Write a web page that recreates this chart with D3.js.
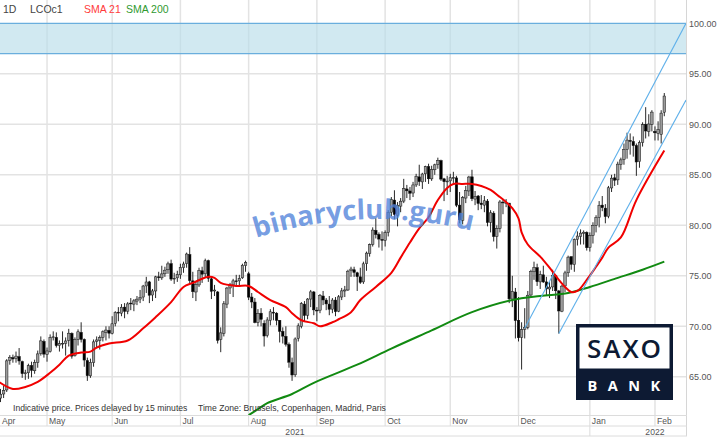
<!DOCTYPE html>
<html>
<head>
<meta charset="utf-8">
<script src="https://cdn.jsdelivr.net/npm/d3@7"></script>
<style>
  body { margin: 0; background: #fff; }
  svg { display: block; font-family: "Liberation Sans", Arial, sans-serif; }
</style>
</head>
<body>
<svg id="chart" width="720" height="437"></svg>
<script>
// LCOc1 daily candles, Apr 2021 - Feb 2022
var dates = [
"2021-04-09","2021-04-12","2021-04-13","2021-04-14","2021-04-15","2021-04-16","2021-04-19","2021-04-20","2021-04-21","2021-04-22","2021-04-23","2021-04-26","2021-04-27","2021-04-28","2021-04-29","2021-04-30",
"2021-05-03","2021-05-04","2021-05-05","2021-05-06","2021-05-07","2021-05-10","2021-05-11","2021-05-12","2021-05-13","2021-05-14","2021-05-17","2021-05-18","2021-05-19","2021-05-20","2021-05-21","2021-05-24","2021-05-25","2021-05-26","2021-05-27","2021-05-28","2021-05-31",
"2021-06-01","2021-06-02","2021-06-03","2021-06-04","2021-06-07","2021-06-08","2021-06-09","2021-06-10","2021-06-11","2021-06-14","2021-06-15","2021-06-16","2021-06-17","2021-06-18","2021-06-21","2021-06-22","2021-06-23","2021-06-24","2021-06-25","2021-06-28","2021-06-29","2021-06-30",
"2021-07-01","2021-07-02","2021-07-05","2021-07-06","2021-07-07","2021-07-08","2021-07-09","2021-07-12","2021-07-13","2021-07-14","2021-07-15","2021-07-16","2021-07-19","2021-07-20","2021-07-21","2021-07-22","2021-07-23","2021-07-26","2021-07-27","2021-07-28","2021-07-29","2021-07-30",
"2021-08-02","2021-08-03","2021-08-04","2021-08-05","2021-08-06","2021-08-09","2021-08-10","2021-08-11","2021-08-12","2021-08-13","2021-08-16","2021-08-17","2021-08-18","2021-08-19","2021-08-20","2021-08-23","2021-08-24","2021-08-25","2021-08-26","2021-08-27","2021-08-30","2021-08-31",
"2021-09-01","2021-09-02","2021-09-03","2021-09-06","2021-09-07","2021-09-08","2021-09-09","2021-09-10","2021-09-13","2021-09-14","2021-09-15","2021-09-16","2021-09-17","2021-09-20","2021-09-21","2021-09-22","2021-09-23","2021-09-24","2021-09-27","2021-09-28","2021-09-29","2021-09-30",
"2021-10-01","2021-10-04","2021-10-05","2021-10-06","2021-10-07","2021-10-08","2021-10-11","2021-10-12","2021-10-13","2021-10-14","2021-10-15","2021-10-18","2021-10-19","2021-10-20","2021-10-21","2021-10-22","2021-10-25","2021-10-26","2021-10-27","2021-10-28","2021-10-29",
"2021-11-01","2021-11-02","2021-11-03","2021-11-04","2021-11-05","2021-11-08","2021-11-09","2021-11-10","2021-11-11","2021-11-12","2021-11-15","2021-11-16","2021-11-17","2021-11-18","2021-11-19","2021-11-22","2021-11-23","2021-11-24","2021-11-25","2021-11-26","2021-11-29","2021-11-30",
"2021-12-01","2021-12-02","2021-12-03","2021-12-06","2021-12-07","2021-12-08","2021-12-09","2021-12-10","2021-12-13","2021-12-14","2021-12-15","2021-12-16","2021-12-17","2021-12-20","2021-12-21","2021-12-22","2021-12-23","2021-12-24","2021-12-27","2021-12-28","2021-12-29","2021-12-30","2021-12-31",
"2022-01-03","2022-01-04","2022-01-05","2022-01-06","2022-01-07","2022-01-10","2022-01-11","2022-01-12","2022-01-13","2022-01-14","2022-01-17","2022-01-18","2022-01-19","2022-01-20","2022-01-21","2022-01-24","2022-01-25","2022-01-26","2022-01-27","2022-01-28","2022-01-31",
"2022-02-01","2022-02-02","2022-02-03","2022-02-04"];

// empty trading days kept on the right of the chart
var futureDates = ["2022-02-07","2022-02-08","2022-02-09","2022-02-10","2022-02-11","2022-02-14","2022-02-15"];

var opens = [
63.20,62.90,63.30,63.70,66.60,66.90,66.80,67.00,66.50,65.30,65.40,66.10,65.60,66.40,67.30,68.50,
67.20,67.50,68.90,68.90,68.10,68.30,68.30,68.60,69.30,67.10,68.70,69.40,68.70,66.60,65.10,66.40,68.50,68.60,68.90,69.40,69.60,
69.30,70.30,71.40,71.30,71.90,71.50,72.30,72.20,72.50,72.70,72.90,74.00,74.40,73.10,73.50,74.90,74.80,75.20,75.60,76.20,74.70,74.80,
75.10,75.80,76.20,77.10,74.50,73.40,74.10,75.50,75.20,76.50,74.70,73.50,73.40,68.70,69.30,72.20,73.80,74.10,74.50,74.50,74.80,76.00,
75.20,72.90,72.40,70.40,71.30,70.30,69.10,70.60,71.40,71.30,70.60,69.50,69.00,68.20,66.40,65.20,68.80,70.00,72.20,71.10,72.70,73.40,
71.60,71.60,73.00,72.60,72.20,71.70,72.60,71.50,72.90,73.50,73.60,75.50,75.60,75.30,74.90,74.40,76.20,77.20,78.10,79.50,79.10,78.60,
78.50,79.30,81.30,82.50,81.00,81.90,82.40,83.60,83.40,83.20,84.00,84.80,84.30,85.10,85.80,84.60,85.50,86.00,86.40,84.60,84.30,
84.40,84.70,84.70,82.00,80.50,82.70,83.40,84.80,82.60,82.90,82.20,82.00,82.40,80.30,81.20,78.90,79.70,82.30,82.20,82.20,72.70,73.40,
70.60,68.90,69.70,69.90,73.10,75.40,75.80,74.40,75.10,74.40,73.70,73.90,75.00,73.50,71.50,74.00,75.30,76.90,76.10,78.60,78.90,79.20,79.30,
77.80,79.00,80.00,80.80,82.00,81.70,80.90,83.70,84.70,84.50,86.00,86.50,87.50,88.40,88.30,87.90,86.30,88.20,90.00,89.30,90.00,
89.30,89.10,89.00,91.20];

var highs = [
63.50,63.80,64.10,66.75,67.15,67.20,67.50,67.85,66.60,65.70,66.30,66.50,66.70,67.60,69.00,68.70,
67.90,69.20,69.50,69.40,68.60,69.50,68.90,69.75,69.40,68.90,69.70,70.40,68.80,66.90,66.80,68.70,69.00,69.10,69.60,70.00,70.00,
71.00,71.50,71.90,72.20,72.30,72.40,72.80,72.70,73.00,73.60,74.10,74.90,74.50,73.70,75.00,75.40,76.00,75.90,76.40,76.60,75.30,75.50,
76.20,76.40,77.30,77.84,75.40,74.40,75.80,75.90,76.70,76.60,74.90,74.10,73.50,69.90,72.50,73.90,74.30,74.70,75.10,75.10,76.20,76.50,
75.40,73.30,72.80,71.70,71.80,70.60,70.90,71.70,71.90,71.40,70.60,69.90,70.00,68.40,66.90,68.90,70.30,72.40,72.50,72.80,73.60,73.50,
71.90,73.20,73.50,72.80,73.00,72.80,72.90,73.10,73.80,74.00,75.60,75.90,75.90,75.40,75.80,76.40,77.40,78.20,79.80,80.70,79.30,79.40,
79.50,81.50,82.80,83.47,82.30,82.70,84.60,84.00,83.80,84.30,85.10,86.00,85.20,85.90,86.10,85.90,86.10,86.70,86.50,84.70,84.90,
85.10,85.30,84.90,83.30,82.90,83.90,84.90,85.50,83.40,83.00,83.00,82.90,82.60,81.50,81.40,80.00,82.50,82.50,82.60,82.20,75.00,73.80,
72.90,70.40,71.80,73.50,75.60,76.40,76.20,75.50,76.00,74.90,74.40,75.60,75.10,73.60,74.10,75.50,77.00,76.90,78.70,79.40,79.60,79.50,79.40,
79.30,80.30,81.00,82.40,82.90,82.10,83.90,85.00,85.10,86.30,86.70,88.10,89.17,89.10,88.80,88.10,88.40,90.20,91.70,91.00,91.40,
89.80,90.30,91.40,93.10];

var lows = [
62.55,62.50,62.90,63.50,66.20,66.40,66.40,66.20,64.90,64.70,64.80,64.95,65.30,65.90,67.10,66.90,
66.50,67.40,68.60,67.90,67.50,67.80,67.10,68.00,66.80,67.00,68.10,68.40,66.00,64.60,64.90,66.00,67.90,67.70,68.50,68.60,68.80,
69.20,70.00,70.50,71.00,70.80,71.20,71.60,71.50,72.10,72.30,72.50,73.30,72.30,72.50,72.80,74.50,74.60,74.90,75.20,74.50,74.20,74.40,
74.70,75.30,75.80,74.10,72.80,72.50,73.90,74.30,74.80,74.40,72.70,73.00,68.30,67.44,69.00,71.80,73.20,72.90,73.90,73.90,74.70,75.40,
72.60,71.80,70.30,70.00,70.00,68.00,68.90,70.10,70.60,70.10,68.40,68.30,68.00,65.90,64.60,65.00,68.50,69.80,70.50,70.70,71.90,71.10,
70.50,71.30,72.10,71.60,71.10,71.30,71.00,71.40,72.60,72.90,73.50,74.90,74.90,73.50,74.20,74.20,75.50,76.90,77.90,78.70,77.80,77.50,
77.90,78.90,80.90,80.60,79.90,81.30,82.20,82.70,82.50,82.80,83.80,83.90,83.60,84.30,84.10,84.40,85.00,85.60,84.40,82.40,83.00,
83.30,84.20,81.80,80.20,80.10,82.20,82.90,82.40,82.00,81.50,81.60,81.30,79.90,79.30,78.40,77.70,79.30,81.10,81.80,72.30,71.90,68.80,
68.50,65.72,68.80,69.70,72.90,74.60,74.00,73.70,74.30,73.00,72.80,73.50,72.70,69.28,71.40,73.40,74.90,75.60,75.40,78.00,78.10,78.10,77.50,
77.40,78.20,79.30,79.80,81.40,80.20,80.70,83.30,83.90,84.00,85.50,86.00,86.60,87.00,86.80,84.90,85.70,87.80,88.60,88.80,89.30,
88.40,88.40,88.10,90.80];

var closes = [
62.95,63.28,63.67,66.58,66.94,66.77,67.05,66.57,65.32,65.40,66.11,65.65,66.42,67.27,68.56,67.25,
67.56,68.88,68.96,68.09,68.28,68.32,68.55,69.32,67.05,68.71,69.46,68.71,66.66,65.11,66.44,68.46,68.65,68.87,69.46,69.63,69.32,
70.25,71.35,71.31,71.89,71.49,72.22,72.22,72.52,72.69,72.86,73.99,74.39,73.08,73.51,74.90,74.81,75.19,75.56,76.18,74.68,74.76,75.13,
75.84,76.17,77.16,74.53,73.43,74.12,75.55,75.16,76.49,74.76,73.47,73.59,68.62,69.35,72.23,73.79,74.10,74.50,74.48,74.74,76.05,76.33,
72.89,72.41,70.38,71.29,70.70,69.04,70.63,71.44,71.31,70.59,69.51,69.03,68.23,66.45,65.18,68.75,70.05,72.25,71.07,72.70,73.41,71.63,
71.59,73.03,72.61,72.22,71.69,72.60,71.45,72.92,73.51,73.60,75.46,75.67,75.34,74.92,74.36,76.19,77.25,78.09,79.53,79.09,78.64,78.52,
79.28,81.26,82.56,81.08,81.95,82.39,83.65,83.42,83.18,84.00,84.86,84.33,85.08,85.82,84.61,85.53,85.99,86.40,84.58,84.32,84.38,
84.71,84.72,81.99,80.54,82.74,83.43,84.78,82.64,82.87,82.17,82.05,82.43,80.28,81.24,78.89,79.70,82.31,82.25,82.22,72.72,73.44,70.57,
68.87,69.67,69.88,73.08,75.44,75.82,74.42,75.15,74.39,73.70,73.88,75.02,73.52,71.52,73.98,75.29,76.85,76.14,78.60,78.94,79.23,79.32,77.78,
78.98,80.00,80.80,81.99,81.75,80.87,83.72,84.67,84.47,86.06,86.48,87.51,88.44,88.38,87.89,86.27,88.20,89.96,89.34,90.03,91.21,
89.16,89.47,91.11,92.80];

// SMA 21
var sma21Dates = ["2021-04-09","2021-04-16","2021-04-22","2021-04-28","2021-05-04","2021-05-07","2021-05-12","2021-05-18","2021-05-21","2021-05-25","2021-05-31",
  "2021-06-08","2021-06-15","2021-06-21","2021-06-28","2021-07-02","2021-07-07","2021-07-14","2021-07-16","2021-07-20","2021-07-27",
  "2021-08-02","2021-08-05","2021-08-11","2021-08-18","2021-08-20","2021-08-25","2021-08-31","2021-09-02","2021-09-08","2021-09-10","2021-09-16","2021-09-21","2021-09-28",
  "2021-10-05","2021-10-08","2021-10-13","2021-10-18","2021-10-21","2021-10-26","2021-10-29","2021-11-02","2021-11-05","2021-11-10","2021-11-15","2021-11-18","2021-11-23","2021-11-25","2021-11-29",
  "2021-12-01","2021-12-02","2021-12-06","2021-12-10","2021-12-15","2021-12-20","2021-12-22","2021-12-24","2021-12-28","2021-12-31",
  "2022-01-05","2022-01-07","2022-01-11","2022-01-17","2022-01-24","2022-02-04"];
var sma21Values = [64.6,63.8,64.0,64.5,65.4,66.2,67.1,67.4,67.5,67.9,68.3,
  68.6,69.8,70.9,72.4,73.9,74.3,74.9,74.8,74.3,74.0,
  74.0,73.4,72.6,71.9,71.3,70.6,70.3,70.0,70.4,70.7,71.4,72.6,73.9,
  75.3,76.8,78.3,79.7,80.8,82.5,83.7,84.1,84.1,84.1,83.9,83.5,82.8,82.3,81.7,
  80.7,79.3,78.1,76.9,75.8,74.6,73.9,73.4,73.5,74.6,
  75.9,76.8,77.8,78.8,82.5,87.4];

// SMA 200
var sma200Dates = ["2021-08-02","2021-08-05","2021-08-10","2021-08-20","2021-08-31","2021-09-20","2021-10-05","2021-10-22",
  "2021-11-10","2021-11-29","2021-12-10","2021-12-23","2022-01-03","2022-01-14","2022-01-26","2022-02-04"];
var sma200Values = [61.2,61.8,62.4,63.3,64.4,66.2,67.8,69.6,71.4,72.6,73.0,73.3,73.9,74.8,75.6,76.4];

// trend channel (start, end)
var upperDates = ["2021-12-03","2022-02-15"], upperValues = [69.8, 100.0];
var lowerDates = ["2021-12-20","2022-02-15"], lowerValues = [69.28, 92.4];

// resistance zone
var zoneValues = [97, 100];

var yTicks = [65, 70, 75, 80, 85, 90, 95, 100];
var monthLabels = ["Apr","May","Jun","Jul","Aug","Sep","Oct","Nov","Dec","Jan","Feb"];
var yearLabels = ["2021","2022"];

var W = 720, H = 437, plotW = 686, plotH = 415;
var svg = d3.select("#chart");

var allDates = dates.concat(futureDates);
function idx(d) { return allDates.indexOf(d); }

var x = d3.scaleLinear().domain([0, allDates.length - 1]).range([-2.6, plotW]);
var y = d3.scaleLinear().domain([61.22, 102.31]).range([plotH, 0]);

svg.append("defs").append("clipPath").attr("id", "plotClip")
  .append("rect").attr("x", 0).attr("y", 0).attr("width", plotW).attr("height", plotH);

// month starts
var monthStarts = [];
dates.forEach(function(d, i) {
  if (i === 0 || d.slice(0, 7) !== dates[i - 1].slice(0, 7)) monthStarts.push(i);
});

var grid = svg.append("g");
grid.selectAll("line.h").data(yTicks.slice(0, -1)).join("line")
  .attr("x1", 0).attr("x2", plotW)
  .attr("y1", function(d) { return y(d); }).attr("y2", function(d) { return y(d); })
  .attr("stroke", "#e3e3e3").attr("stroke-width", 1.5);
grid.selectAll("line.v").data(monthStarts.slice(1)).join("line")
  .attr("x1", function(i) { return x(i); }).attr("x2", function(i) { return x(i); })
  .attr("y1", 0).attr("y2", plotH)
  .attr("stroke", "#e3e3e3").attr("stroke-width", 1.5);

var plot = svg.append("g").attr("clip-path", "url(#plotClip)");

// blue zone
plot.append("rect")
  .attr("x", 0).attr("width", plotW)
  .attr("y", y(zoneValues[1])).attr("height", y(zoneValues[0]) - y(zoneValues[1]))
  .attr("fill", "#b9dde9").attr("fill-opacity", 0.65);
plot.selectAll("line.zone").data(zoneValues).join("line")
  .attr("x1", 0).attr("x2", plotW)
  .attr("y1", function(d) { return y(d); }).attr("y2", function(d) { return y(d); })
  .attr("stroke", "#6aaedd").attr("stroke-width", 1.3);

// candles
var candle = plot.selectAll("g.candle").data(d3.range(dates.length)).join("g").attr("class", "candle");
candle.append("line")
  .attr("x1", function(i) { return x(i); }).attr("x2", function(i) { return x(i); })
  .attr("y1", function(i) { return y(highs[i]); }).attr("y2", function(i) { return y(lows[i]); })
  .attr("stroke", "#111").attr("stroke-width", 0.9);
candle.append("rect")
  .attr("x", function(i) { return x(i) - 1.25; })
  .attr("width", 2.5)
  .attr("y", function(i) { return y(Math.max(opens[i], closes[i])); })
  .attr("height", function(i) { return Math.max(0.8, Math.abs(y(opens[i]) - y(closes[i]))); })
  .attr("fill", function(i) { return closes[i] >= opens[i] ? "#9b9b9b" : "#000"; })
  .attr("stroke", "#111").attr("stroke-width", 0.5);

// watermark
svg.append("defs").append("path").attr("id", "wmPath")
  .attr("d", "M 252 239 Q 365 203 476 232");
svg.append("text")
  .attr("font-family", "'Open Sans', 'DejaVu Sans', sans-serif")
  .attr("font-weight", 700).attr("font-size", 27.5)
  .attr("fill", "#5283da").attr("fill-opacity", 0.8)
  .append("textPath").attr("href", "#wmPath")
  .attr("startOffset", "50%").attr("text-anchor", "middle")
  .text("binaryclub.guru");

// moving averages
var line = d3.line()
  .x(function(d) { return x(idx(d[0])); })
  .y(function(d) { return y(d[1]); })
  .curve(d3.curveCatmullRom.alpha(0.5));
plot.append("path").datum(d3.zip(sma200Dates, sma200Values))
  .attr("d", line).attr("fill", "none").attr("stroke", "#118a11").attr("stroke-width", 2);
plot.append("path").datum(d3.zip(sma21Dates, sma21Values))
  .attr("d", line).attr("fill", "none").attr("stroke", "#f00000").attr("stroke-width", 2);

// channel
var straight = d3.line().x(function(d) { return x(idx(d[0])); }).y(function(d) { return y(d[1]); });
[[upperDates, upperValues], [lowerDates, lowerValues]].forEach(function(c) {
  plot.append("path").datum(d3.zip(c[0], c[1]))
    .attr("d", straight).attr("fill", "none").attr("stroke", "#5fb0ea").attr("stroke-width", 1.1);
});

// right border and y labels
svg.append("line").attr("x1", plotW + 0.5).attr("x2", plotW + 0.5).attr("y1", 0).attr("y2", 436)
  .attr("stroke", "#d6d6d6").attr("stroke-width", 1);
var yAxis = svg.append("g").attr("transform", "translate(" + plotW + ",0)")
  .call(d3.axisRight(y).tickValues(yTicks).tickFormat(d3.format(".2f")).tickSize(0).tickPadding(3));
yAxis.select(".domain").remove();
yAxis.selectAll("text").attr("font-size", 9).attr("fill", "#555")
  .attr("font-family", "'Liberation Sans', Arial, sans-serif");

// header
var header = svg.append("g").attr("font-size", 10.5);
header.append("text").attr("x", 3).attr("y", 13).attr("fill", "#444").text("1D");
header.append("text").attr("x", 30).attr("y", 13).attr("fill", "#444").text("LCOc1");
header.append("text").attr("x", 84).attr("y", 13).attr("fill", "#ff3b3b").text("SMA 21");
header.append("text").attr("x", 126).attr("y", 13).attr("fill", "#2f9a2f").text("SMA 200");

// note
svg.append("text").attr("x", 13).attr("y", 411).attr("font-size", 8.6).attr("fill", "#333")
  .text("Indicative price. Prices delayed by 15 minutes");
svg.append("text").attr("x", 198).attr("y", 411).attr("font-size", 8.6).attr("fill", "#333")
  .text("Time Zone: Brussels, Copenhagen, Madrid, Paris");

// time axis
var axis = svg.append("g");
[415.5, 426, 436].forEach(function(v) {
  axis.append("line").attr("x1", 0).attr("x2", plotW + 1).attr("y1", v).attr("y2", v)
    .attr("stroke", "#dcdcdc").attr("stroke-width", 1);
});
axis.selectAll("line.msep").data(monthStarts.slice(1)).join("line")
  .attr("x1", function(i) { return x(i); }).attr("x2", function(i) { return x(i); })
  .attr("y1", 415.5).attr("y2", 426).attr("stroke", "#dcdcdc");
axis.selectAll("text.month").data(monthStarts).join("text")
  .attr("x", function(i) { return Math.max(0, x(i)) + 2; })
  .attr("y", 424).attr("font-size", 8.6).attr("fill", "#555")
  .text(function(i, k) { return monthLabels[k]; });
var janIdx = dates.indexOf("2022-01-03");
axis.append("line").attr("x1", x(janIdx)).attr("x2", x(janIdx)).attr("y1", 426).attr("y2", 436).attr("stroke", "#dcdcdc");
var yearCenters = [x(janIdx) / 2, (x(janIdx) + W) / 2];
axis.selectAll("text.year").data(yearLabels).join("text")
  .attr("x", function(d, k) { return yearCenters[k]; })
  .attr("y", 434.5).attr("text-anchor", "middle").attr("font-size", 8.6).attr("fill", "#555")
  .text(function(d) { return d; });

// Saxo logo
var logo = svg.append("g");
logo.append("rect").attr("x", 576).attr("y", 324).attr("width", 97).attr("height", 76).attr("fill", "#0d1a33");
logo.append("rect").attr("x", 579.5).attr("y", 327.5).attr("width", 90).attr("height", 41).attr("fill", "#fff");
logo.append("text").attr("x", 625).attr("y", 358).attr("text-anchor", "middle")
  .attr("font-family", "'Open Sans', sans-serif").attr("font-weight", 600).attr("font-size", 26)
  .attr("letter-spacing", 2).attr("fill", "#0d1a33").text("SAXO");
logo.append("text").attr("x", 629).attr("y", 391).attr("text-anchor", "middle")
  .attr("font-family", "'Open Sans', sans-serif").attr("font-weight", 700).attr("font-size", 14.5)
  .attr("letter-spacing", 10.5).attr("fill", "#fff").text("BANK");
</script>
</body>
</html>
